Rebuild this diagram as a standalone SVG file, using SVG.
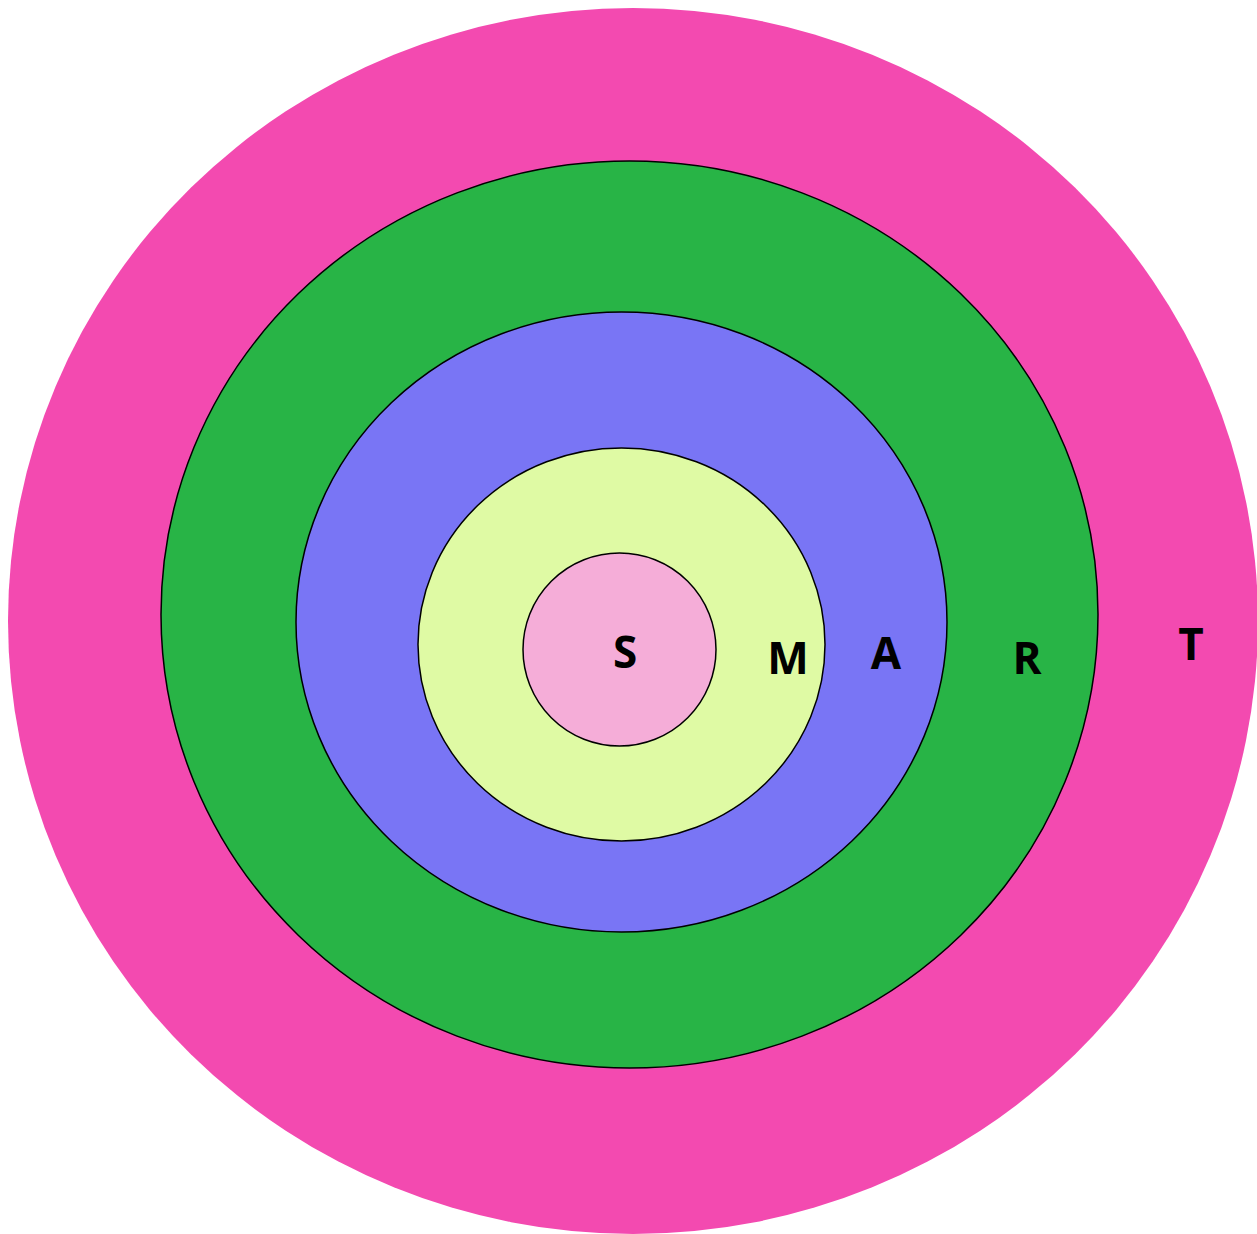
<svg xmlns="http://www.w3.org/2000/svg" width="1257" height="1234" viewBox="0 0 1257 1234">
<style>
.ring{stroke:#000;stroke-width:1.5}
.lbl{font-family:"Open Sans","Liberation Sans",sans-serif;font-weight:bold;font-size:44px;fill:#000;text-anchor:middle}
</style>
<rect width="1257" height="1234" fill="#fff"/>
<g id="ring-T"><ellipse cx="633" cy="621" rx="625" ry="613" fill="#F34AB0"/></g>
<g id="ring-R"><ellipse class="ring" cx="629.5" cy="614.5" rx="468.5" ry="453.5" fill="#28B446"/></g>
<g id="ring-A"><ellipse class="ring" cx="621.5" cy="622" rx="325.5" ry="310" fill="#7975F5"/></g>
<g id="ring-M"><ellipse class="ring" cx="621.5" cy="644.5" rx="203.5" ry="196.5" fill="#DFFAA4"/></g>
<g id="ring-S"><ellipse class="ring" cx="619.5" cy="649.5" rx="96.5" ry="96.5" fill="#F5ADD8"/></g>
<g id="labels">
<text class="lbl" x="625" y="668">S</text>
<text class="lbl" x="788" y="674">M</text>
<text class="lbl" x="886" y="669">A</text>
<text class="lbl" x="1027" y="674">R</text>
<text class="lbl" x="1191" y="660">T</text>
</g>
<g id="connectors"></g>
</svg>
